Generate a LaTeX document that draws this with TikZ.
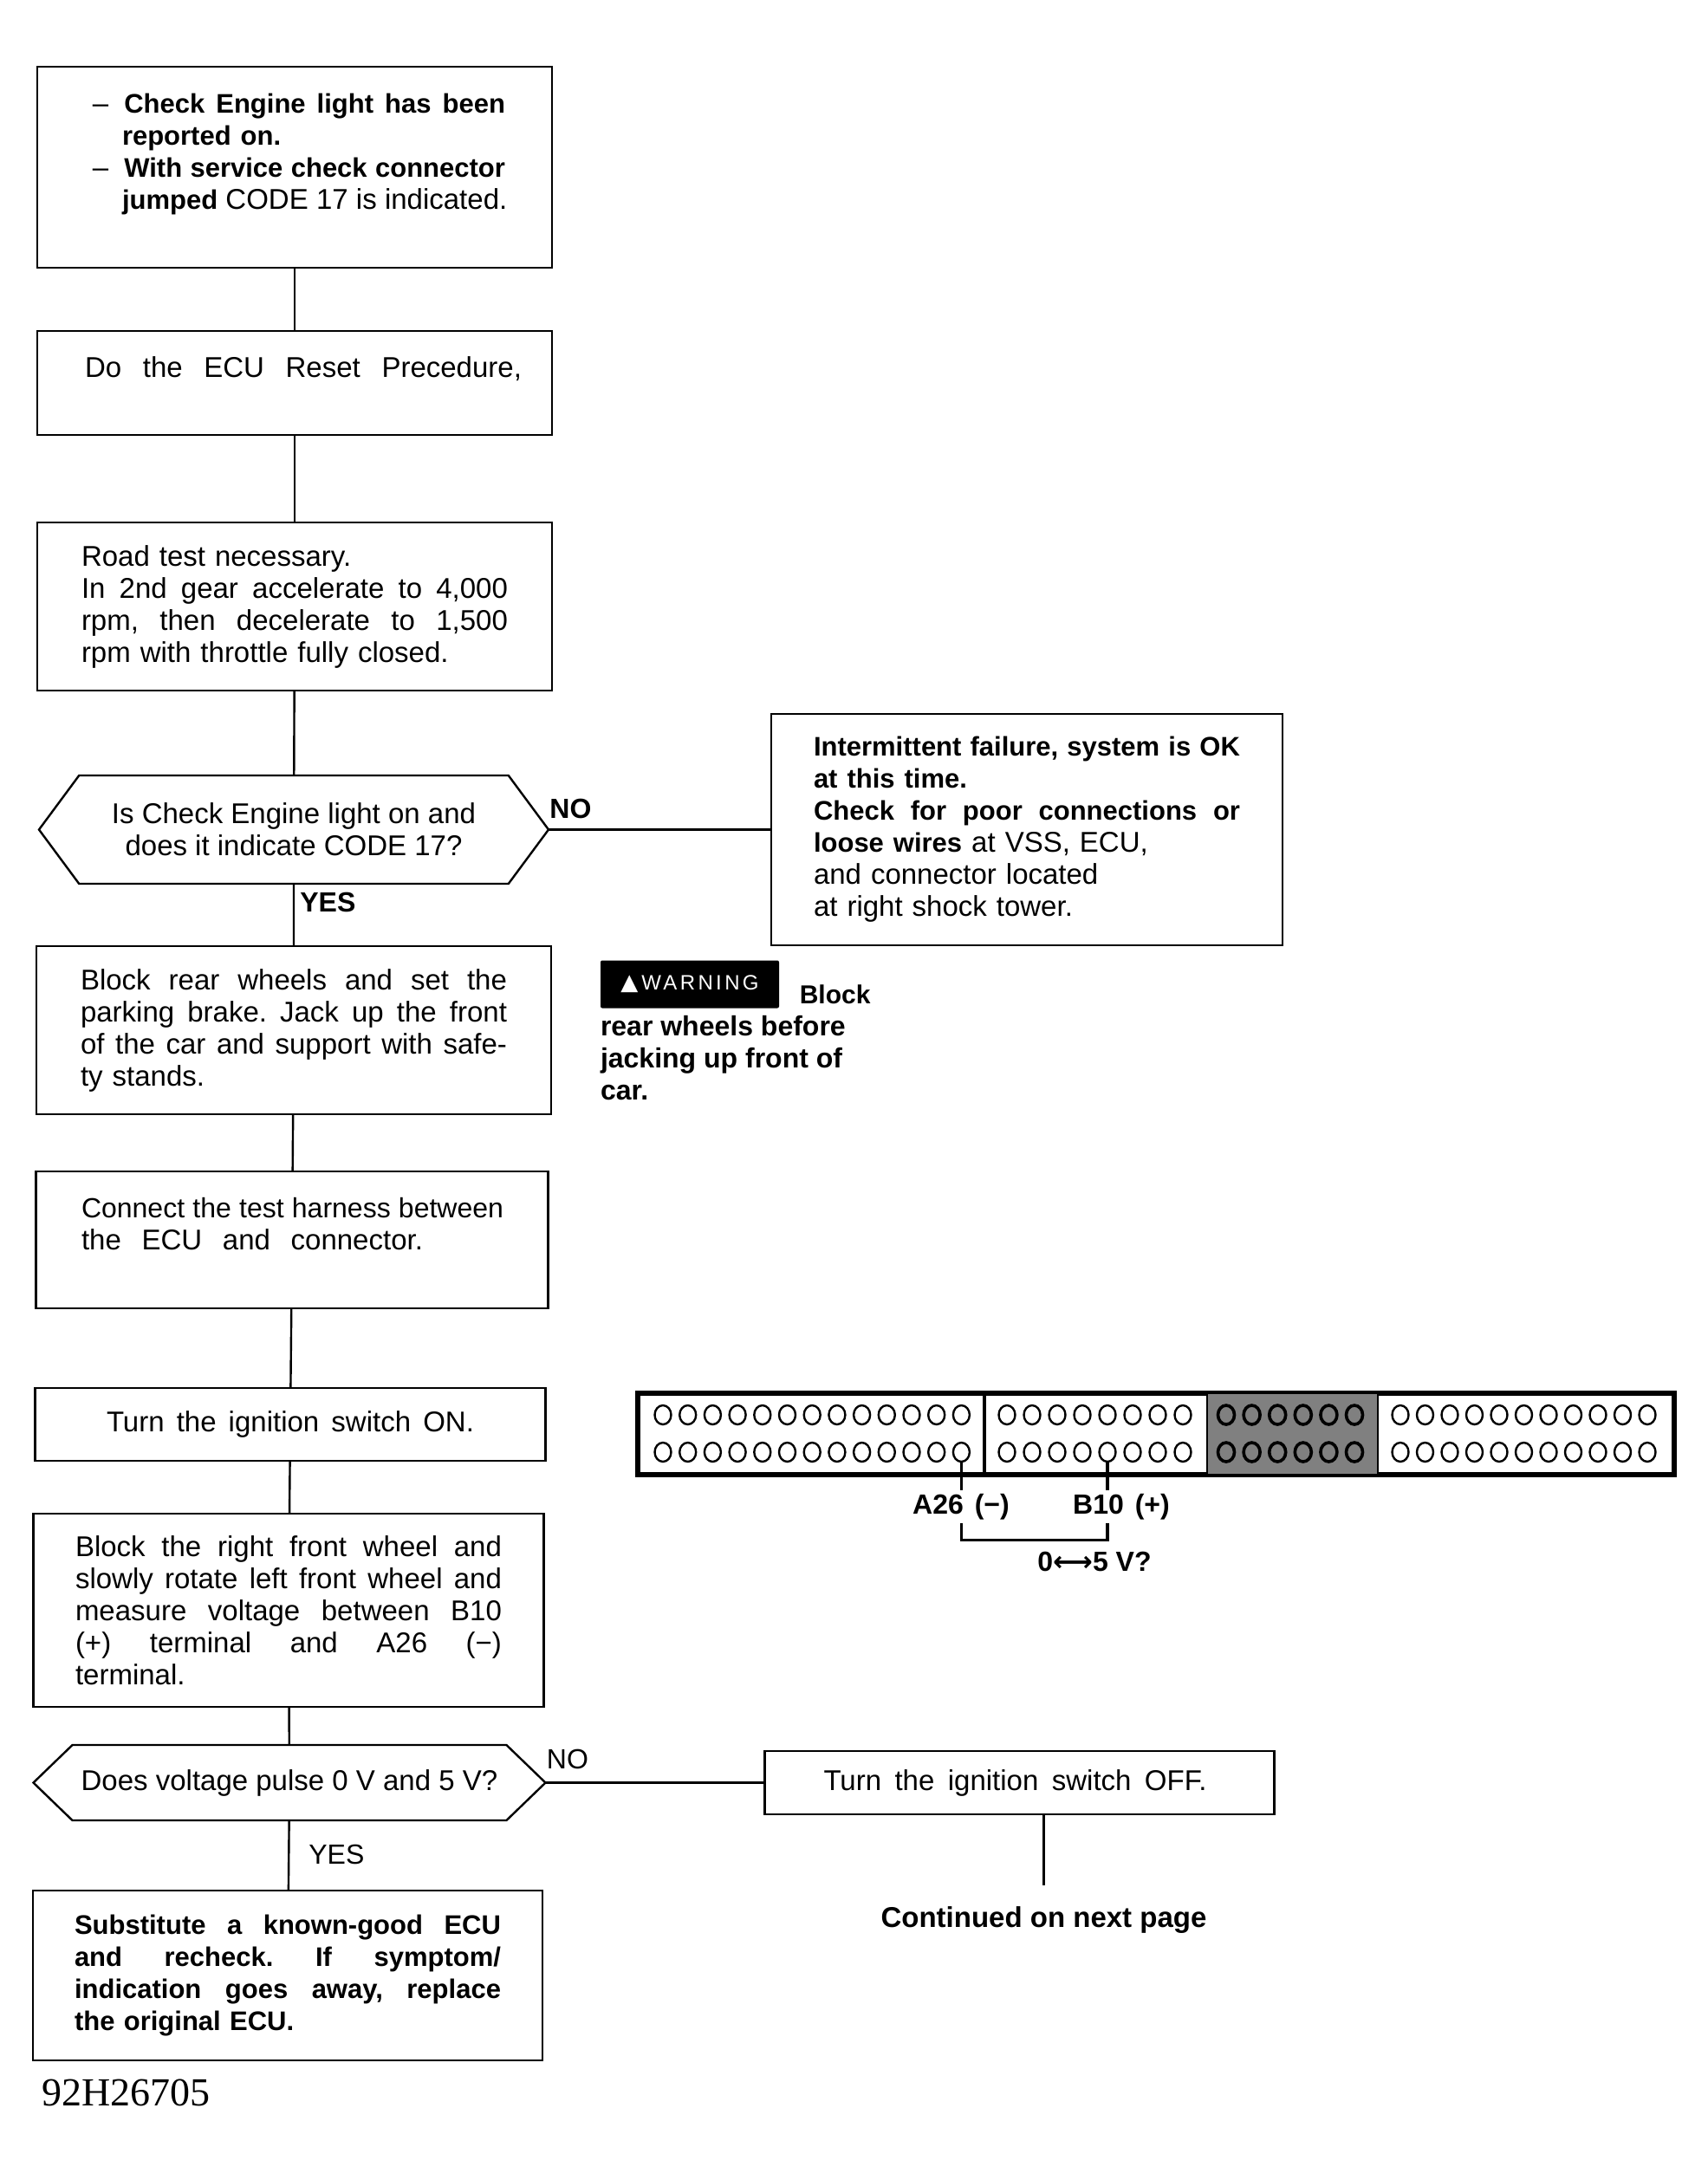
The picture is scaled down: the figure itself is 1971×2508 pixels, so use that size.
\documentclass[tikz,border=0pt]{standalone}
\usepackage{fontspec}
\setmainfont{Liberation Sans}
\newfontfamily\symfont{DejaVu Sans}
\newfontfamily\codefont{Liberation Serif}
\usetikzlibrary{positioning,shapes.symbols,shapes.geometric}
\newcommand{\fitline}[1]{\leavevmode\hbox to\hsize{\frenchspacing\spaceskip=0.28em plus 1fil\relax #1}}
\newcommand{\hb}[1]{{\fontsize{15.5}{18.5}\selectfont\bfseries #1}}
\begin{document}
\begin{tikzpicture}[
                x=0.5pt, y=-0.5pt,
                box/.style={draw, line width=1.2pt, inner sep=0pt, outer sep=0pt, minimum width=297pt,
                            text width=246pt, align=left,
                            font=\fontsize{16.5}{18.5}\selectfont},
                decision/.style={draw, line width=1.2pt, inner sep=0pt, outer sep=0pt, signal,
                                 signal to=west and east, align=center,
                                 font=\fontsize{16.5}{18.5}\selectfont},
                tag/.style={inner sep=0pt, font=\fontsize{16}{18}\selectfont},
                pinhole/.style={draw, line width=1.2pt, ellipse, inner sep=0pt,
                                minimum width=9.5pt, minimum height=11pt},
                wire/.style={line width=1.2pt},
                lead/.style={line width=1.7pt},
                heavy/.style={line width=2.2pt}
            ]
                \useasboundingbox (0,0) rectangle (1971,2508);
                % left column
                \node[box, minimum height=116pt, text width=243pt] (engine) at (340,193)
                    {\fitline{\hspace{5pt}--\hspace{9pt}\hb{Check Engine light has been}}\\
                     \hspace*{22pt}\hb{reported on.}\\
                     \fitline{\hspace{5pt}--\hspace{9pt}\hb{With service check connector}}\\
                     \fitline{\hspace{22pt}\hb{jumped} CODE 17 is indicated.}\\ \mbox{}};
                \node[box, below=36.5pt of engine, minimum height=60pt, text width=262pt] (reset)
                    {\fitline{\hspace{10pt}Do the ECU Reset Precedure,}\\ \mbox{}};
                \node[box, below=50.5pt of reset, minimum height=97pt] (roadtest)
                    {Road test necessary.\\
                     \fitline{In 2nd gear accelerate to 4,000}\\
                     \fitline{rpm, then decelerate to 1,500}\\
                     rpm with throttle fully closed.};
                \node[decision, below=49pt of roadtest, xshift=-0.5pt, minimum width=294pt,
                      minimum height=62.5pt, signal pointer angle=107] (lighton)
                    {Is Check Engine light on and\\does it indicate CODE 17?};
                \node[box, below=36pt of lighton, minimum height=97pt] (blockrear)
                    {\fitline{Block rear wheels and set the}\\
                     \fitline{parking brake. Jack up the front}\\
                     \fitline{of the car and support with safe-}\\
                     ty stands.};
                \node[box, below=33pt of blockrear, xshift=-1pt, minimum width=295.5pt, minimum height=79pt,
                      text width=243pt] (harness)
                    {\fitline{\fontsize{16}{18.5}\selectfont Connect the test harness between}\\
                     \fitline{the ECU and connector.\hspace{46pt}}\\ \mbox{}};
                \node[box, below=46pt of harness, xshift=-1pt, minimum width=294.5pt, minimum height=42pt,
                      text width=212pt] (ignon) {\fitline{Turn the ignition switch ON.}};
                \node[box, below=30.5pt of ignon, xshift=-1pt, minimum width=294.5pt, minimum height=111.5pt] (measure)
                    {\fitline{Block the right front wheel and}\\
                     \fitline{slowly rotate left front wheel and}\\
                     \fitline{measure voltage between B10}\\
                     \fitline{(+) terminal and A26 (−)}\\
                     terminal.};
                \node[decision, below=22pt of measure, xshift=0.5pt, minimum width=295.5pt,
                      minimum height=43.5pt, signal pointer angle=88] (pulse)
                    {\raisebox{-1.5pt}{Does voltage pulse 0 V and 5 V?}};
                \node[box, below=40.5pt of pulse, xshift=-1pt, minimum width=294pt, minimum height=98pt,
                      font=\fontsize{15.5}{18.5}\selectfont\bfseries] (substitute)
                    {\fitline{Substitute a known-good ECU}\\
                     \fitline{and recheck. If symptom/}\\
                     \fitline{indication goes away, replace}\\
                     the original ECU.};
                \node[inner sep=0pt, below=10.5pt of substitute.south west, anchor=north west, xshift=5pt,
                      font=\fontsize{23}{25}\selectfont\codefont] (figcode) {92H26705};
                % right column
                \node[box, right=128.5pt of lighton, minimum width=295pt, minimum height=133.5pt] (failure)
                    {\fitline{\hb{Intermittent failure, system is OK}}\\
                     \hb{at this time.}\\
                     \fitline{\hb{Check for poor connections or}}\\
                     \hb{loose wires} at VSS, ECU,\\
                     and connector located\\
                     at right shock tower.};
                \node[box, right=126.5pt of pulse, minimum width=294pt, minimum height=36.5pt,
                      text width=226pt] (ignoff) {\fitline{Turn the ignition switch OFF.\hspace{5pt}}};
                \node[below=41pt of ignoff, xshift=14pt, inner ysep=12pt, inner xsep=0pt,
                      font=\fontsize{16.5}{18.5}\selectfont\bfseries] (nextpage) {Continued on next page};
                % warning note
                \node[fill=black, text=white, inner sep=0pt, minimum width=103pt, minimum height=27.5pt,
                      rounded corners=1pt, font=\fontsize{12}{12}\selectfont\addfontfeature{LetterSpace=14}] (warnbox) at (796,1136)
                    {\raisebox{-2.4pt}{{\symfont\fontsize{13}{12}\selectfont ▲}\,WARNING}};
                \node[tag, right=11.5pt of warnbox, yshift=-6pt, font=\fontsize{15}{18.5}\selectfont\bfseries] (warnblock) {Block};
                \node[tag, below=4pt of warnbox.south west, anchor=north west, align=left,
                      font=\fontsize{16}{18.5}\selectfont\bfseries] (warntext)
                    {rear wheels before\\jacking up front of\\car.};
                % connector strip
                \node[draw, line width=2.8pt, inner sep=0pt, minimum width=598pt, minimum height=47pt] (strip) at (1334,1655) {};
                \node[draw, line width=1.2pt, fill=black!50, inner sep=0pt, minimum width=98.5pt, minimum height=47pt] (shaded) at (1491.5,1655) {};
                \draw[heavy] (strip.north -| 1136,0) -- (strip.south -| 1136,0);
                \foreach \i in {1,...,13} {
                    \node[pinhole] (at\i) at ({765+(\i-1)*28.7},1633) {};
                    \node[pinhole] (ab\i) at ({765+(\i-1)*28.7},1676) {};
                }
                \foreach \i in {1,...,8} {
                    \node[pinhole] (bt\i) at ({1162+(\i-1)*29},1633) {};
                    \node[pinhole] (bb\i) at ({1162+(\i-1)*29},1676) {};
                }
                \foreach \i in {1,...,6} {
                    \node[pinhole, fill=black!50, line width=1.8pt] (ct\i) at ({1415+(\i-1)*29.6},1633) {};
                    \node[pinhole, fill=black!50, line width=1.8pt] (cb\i) at ({1415+(\i-1)*29.6},1676) {};
                }
                \foreach \i in {1,...,11} {
                    \node[pinhole] (dt\i) at ({1616+(\i-1)*28.5},1633) {};
                    \node[pinhole] (db\i) at ({1616+(\i-1)*28.5},1676) {};
                }
                \node[tag, minimum height=19pt, font=\fontsize{16}{18}\selectfont\bfseries] (minus) at (1109,1739) {A26\hspace{2pt} (−)};
                \node[tag, minimum height=19pt, font=\fontsize{16}{18}\selectfont\bfseries] (plus) at (1294,1739) {B10\hspace{2pt} (+)};
                \node[tag, minimum height=24pt, font=\fontsize{16}{18}\selectfont\bfseries] (volts) at (1263,1802) {0{\symfont ⟷}5 V?};
                % flow lines
                \draw[wire] (engine) -- (reset);
                \draw[wire] (reset) -- (roadtest);
                \draw[wire] (roadtest) -- (lighton);
                \draw[wire] (lighton) -- (blockrear);
                \draw[wire] (blockrear) -- (harness);
                \draw[wire] (harness) -- (ignon);
                \draw[wire] (ignon) -- (measure);
                \draw[wire] (measure) -- (pulse);
                \draw[wire] (pulse) -- (substitute);
                \draw[wire] (lighton.east) -- (failure.west);
                \draw[wire] (pulse.east) -- (ignoff.west);
                \draw[wire] (nextpage.north |- ignoff.south) -- (nextpage.north);
                \draw[lead] (ab13) -- (ab13 |- minus.north);
                \draw[lead] (bb5) -- (bb5 |- plus.north);
                \draw[lead] (ab13 |- minus.south) -- (ab13 |- volts.north) -- (bb5 |- volts.north) -- (bb5 |- plus.south);
                % answers
                \node[tag, above right=6pt and 0.5pt of lighton.east, font=\fontsize{16}{18}\selectfont\bfseries] (noa) {NO};
                \node[tag, below right=5pt and 3.5pt of lighton.south, font=\fontsize{16}{18}\selectfont\bfseries] (yesa) {YES};
                \node[tag, above right=7.5pt and 0.5pt of pulse.east] (nob) {NO};
                \node[tag, below right=14pt and 11pt of pulse.south] (yesb) {YES};
            \end{tikzpicture}
\end{document}
